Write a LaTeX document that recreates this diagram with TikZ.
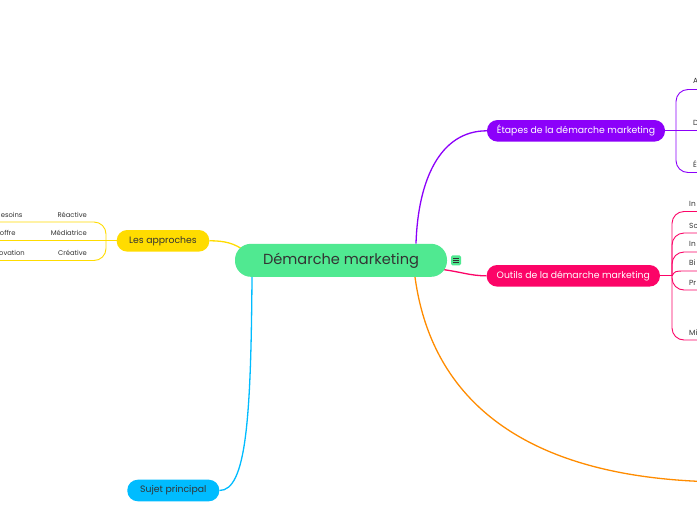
\documentclass[tikz,border=0pt]{standalone}
\usepackage{fontspec}
\setmainfont{Poppins}
\usetikzlibrary{calc,backgrounds}
\definecolor{cgreen}{HTML}{50E991}
\definecolor{cpurple}{HTML}{8C00FA}
\definecolor{cpink}{HTML}{FC0467}
\definecolor{cyellow}{HTML}{FFDC00}
\definecolor{cblue}{HTML}{00BCFF}
\definecolor{corange}{HTML}{FF8C00}
\definecolor{ctext}{HTML}{333333}
\begin{document}
\begin{tikzpicture}[x=1pt,y=-1pt,
  topicbox/.style={rounded corners=10.5pt, minimum height=21.6pt, inner sep=0pt,
    font=\fontsize{9.3}{11}\selectfont},
  subtext/.style={inner sep=0pt, text=ctext, font=\fontsize{6.8}{8}\selectfont},
  rtext/.style={inner sep=0pt, text=ctext, anchor=west, font=\fontsize{7.4}{9}\selectfont},
  mainline/.style={line width=1.3pt},
  subline/.style={line width=0.9pt},
  roundbend/.style={rounded corners=12pt}]
\useasboundingbox (0,0) rectangle (697,520);
\begin{scope}[on background layer]
\fill[white] (0,0) rectangle (697,520);
\end{scope}
\begin{scope}
\clip (0,0) rectangle (697,520);

% nodes
\node[fill=cgreen, rounded corners=16pt, minimum width=212pt, minimum height=33pt,
  inner sep=0pt, text=ctext, font=\fontsize{14.6}{16}\selectfont] (c) at (341,260.3) {Démarche marketing};
\node[topicbox, fill=cpurple, text=white, minimum width=178pt] (e) at (576,130.8) {Étapes de la démarche marketing};
\node[topicbox, fill=cpink, text=white, minimum width=173.3pt] (o) at (573.3,275.8) {Outils de la démarche marketing};
\node[topicbox, fill=cyellow, text=ctext, minimum width=92.6pt] (l) at (163,240.8) {Les approches};
\node[topicbox, fill=cblue, text=ctext, minimum width=92pt] (s) at (173.3,490.5) {Sujet principal};

% coordinates
\coordinate (oe) at (730,482);
\coordinate (lb) at (106,240.8);
\coordinate (eb) at (676,130.8);
\coordinate (ob) at (672,275.8);

% icon
\node[fill=cgreen, rounded corners=1.5pt, minimum size=10pt, inner sep=0pt] (ic) at (456,260.3) {};
\foreach \dy in {-2.3,0,2.3}
  \draw[ctext, line width=0.8pt] ($(ic.center)+(-2.6,\dy)$) -- ($(ic.center)+(2.6,\dy)$);

% left bracket (Les approches)
\draw[cyellow, subline] (l.west) -- (lb) -- (-5,240.8);
\draw[cyellow, subline, roundbend] (lb) |- (-5,222);
\draw[cyellow, subline, roundbend] (lb) |- (-5,260.5);
\node[subtext, anchor=east] (r1) at (87,214.5) {Réactive};
\node[subtext, anchor=east] (r1b) at (22.7,214.5) {esoins};
\node[subtext, anchor=east] (r2) at (87,233.2) {Médiatrice};
\node[subtext, anchor=east] (r2b) at (15.7,233.2) {offre};
\node[subtext, anchor=east] (r3) at (87,252.6) {Créative};
\node[subtext, anchor=east] (r3b) at (25,252.6) {ovation};

% right bracket (Etapes)
\draw[cpurple, subline] (e.east) -- (eb) -- (705,130.8);
\draw[cpurple, subline, roundbend] (eb) |- (705,89.5);
\draw[cpurple, subline, roundbend] (eb) |- (705,172.5);
\node[rtext] (ea) at (693,81) {A};
\node[rtext] (ed) at (693,123) {D};
\node[rtext] (ee) at (693,164.5) {É};

% right bracket (Outils)
\draw[cpink, subline] (o.east) -- (ob);
\draw[cpink, subline, roundbend] (ob) |- (705,211.5);
\draw[cpink, subline, roundbend] (ob) |- (705,233);
\draw[cpink, subline, roundbend] (ob) |- (705,252);
\draw[cpink, subline] (ob) .. controls (675,271) .. (686,271) -- (705,271);
\draw[cpink, subline, roundbend] (ob) |- (705,290);
\draw[cpink, subline, roundbend] (ob) |- (705,340);
\node[rtext] (o1) at (689,203.5) {In};
\node[rtext] (o2) at (689,225.5) {Sc};
\node[rtext] (o3) at (689,244) {In};
\node[rtext] (o4) at (689,263) {Bi};
\node[rtext] (o5) at (689,282.5) {Pr};
\node[rtext] (o6) at (689,332.5) {Mi};
\end{scope}

% main connectors behind nodes
\begin{scope}[on background layer]
\clip (0,0) rectangle (697,520);
\draw[cpurple, mainline] ($(c.north)+(75,0)$) .. controls (418,180) and (440,130.8) .. (e.west);
\draw[corange, mainline] ($(c.south)+(74,0)$) .. controls (425,350) and (470,482) .. (oe);
\draw[cblue, mainline] ($(c.south)+(-89,0)$) .. controls (251,420) and (246,490.5) .. (s.east);
\draw[cyellow, mainline] (l.east) .. controls (225,240.8) and (234,243) .. ($(c.north)+(-95,8)$);
\draw[cpink, mainline] ($(c.east)+(-6,9)$) .. controls (462,272) and (470,275.8) .. (o.west);
\end{scope}
\end{tikzpicture}
\end{document}
